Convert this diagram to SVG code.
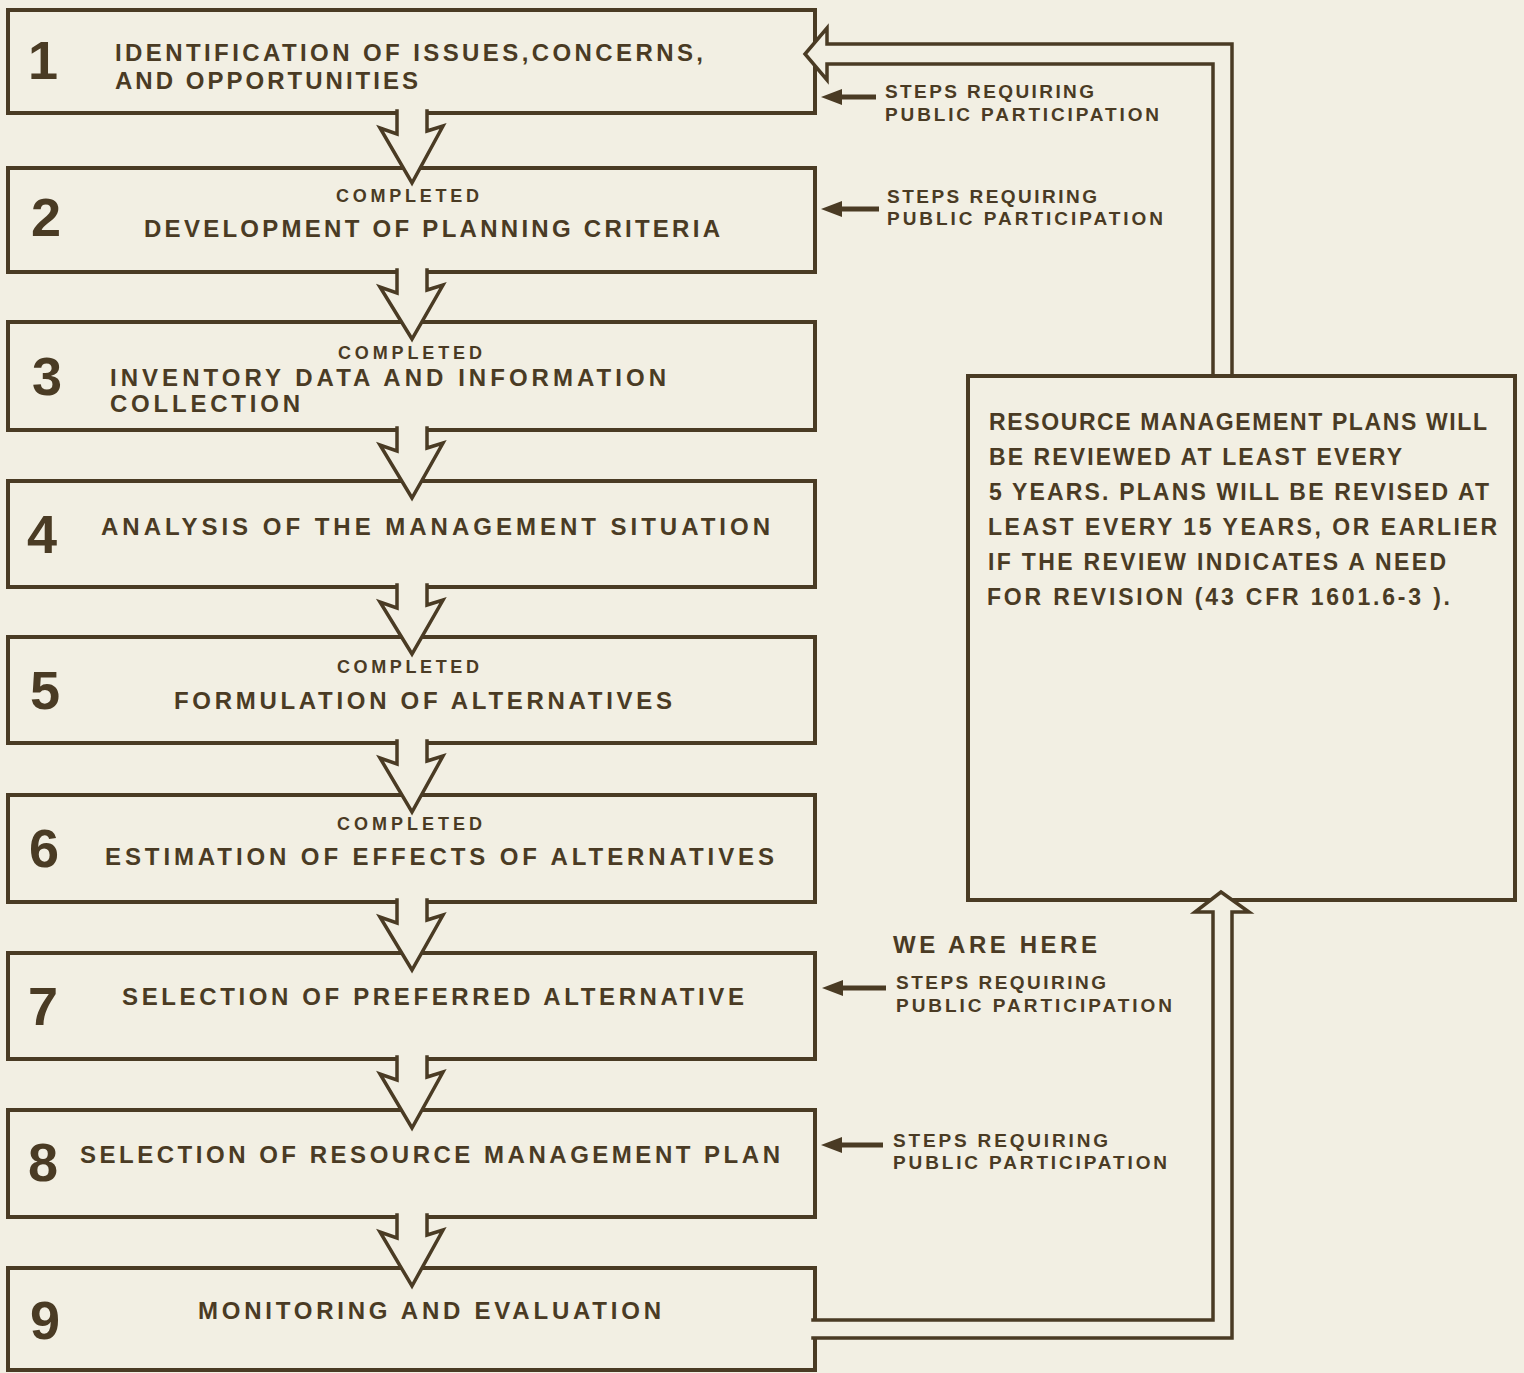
<svg xmlns="http://www.w3.org/2000/svg" width="1524" height="1373" viewBox="0 0 1524 1373">
<style>
.bg{fill:#f2efe3}
.box{fill:none;stroke:#4a3b24;stroke-width:4;stroke-linejoin:miter}
.con{fill:#f2efe3;stroke:#4a3b24;stroke-width:3.5;stroke-linejoin:miter;stroke-linecap:square}
.pp{fill:#4a3b24}
.t{font-family:"Liberation Sans",Arial,sans-serif;font-weight:bold;fill:#4a3b24}
.n{font-family:"Liberation Sans Narrow","Arial Narrow","Liberation Sans",sans-serif}
.num{font-size:54px;text-anchor:middle}
.main{font-size:24px}
.small{font-size:18px}
.side{font-size:19px}
.note{font-size:23px}
.here{font-size:24px}
</style>
<rect class="bg" x="0" y="0" width="1524" height="1373"/>

<g id="node1">
<rect class="box" x="8" y="10" width="807" height="103"/>
<text class="t n num" x="43" y="79">1</text>
<text class="t n main" x="115" y="61" textLength="588" lengthAdjust="spacing">IDENTIFICATION OF ISSUES,CONCERNS,</text>
<text class="t n main" x="115" y="89" textLength="303" lengthAdjust="spacing">AND OPPORTUNITIES</text>
</g>
<g id="node2">
<rect class="box" x="8" y="168" width="807" height="104"/>
<text class="t n num" x="46" y="236">2</text>
<text class="t n small" x="336" y="202" textLength="143" lengthAdjust="spacing">COMPLETED</text>
<text class="t n main" x="144" y="237" textLength="576" lengthAdjust="spacing">DEVELOPMENT OF PLANNING CRITERIA</text>
</g>
<g id="node3">
<rect class="box" x="8" y="322" width="807" height="108"/>
<text class="t n num" x="47" y="395">3</text>
<text class="t n small" x="338" y="359" textLength="144" lengthAdjust="spacing">COMPLETED</text>
<text class="t n main" x="110" y="386" textLength="556" lengthAdjust="spacing">INVENTORY DATA AND INFORMATION</text>
<text class="t n main" x="110" y="412" textLength="190" lengthAdjust="spacing">COLLECTION</text>
</g>
<g id="node4">
<rect class="box" x="8" y="481" width="807" height="106"/>
<text class="t n num" x="42" y="553">4</text>
<text class="t n main" x="101" y="535" textLength="669" lengthAdjust="spacing">ANALYSIS OF THE MANAGEMENT SITUATION</text>
</g>
<g id="node5">
<rect class="box" x="8" y="637" width="807" height="106"/>
<text class="t n num" x="45" y="709">5</text>
<text class="t n small" x="337" y="673" textLength="142" lengthAdjust="spacing">COMPLETED</text>
<text class="t n main" x="174" y="709" textLength="498" lengthAdjust="spacing">FORMULATION OF ALTERNATIVES</text>
</g>
<g id="node6">
<rect class="box" x="8" y="795" width="807" height="107"/>
<text class="t n num" x="44" y="867">6</text>
<text class="t n small" x="337" y="830" textLength="145" lengthAdjust="spacing">COMPLETED</text>
<text class="t n main" x="105" y="865" textLength="669" lengthAdjust="spacing">ESTIMATION OF EFFECTS OF ALTERNATIVES</text>
</g>
<g id="node7">
<rect class="box" x="8" y="953" width="807" height="106"/>
<text class="t n num" x="43" y="1025">7</text>
<text class="t n main" x="122" y="1005" textLength="622" lengthAdjust="spacing">SELECTION OF PREFERRED ALTERNATIVE</text>
</g>
<g id="node8">
<rect class="box" x="8" y="1110" width="807" height="107"/>
<text class="t n num" x="43" y="1181">8</text>
<text class="t n main" x="80" y="1163" textLength="700" lengthAdjust="spacing">SELECTION OF RESOURCE MANAGEMENT PLAN</text>
</g>
<g id="node9">
<rect class="box" x="8" y="1268" width="807" height="102"/>
<text class="t n num" x="45" y="1339">9</text>
<text class="t n main" x="198" y="1319" textLength="463" lengthAdjust="spacing">MONITORING AND EVALUATION</text>
</g>
<g id="review">
<rect class="box" x="968" y="376" width="547" height="524"/>
<text class="t note" x="989" y="430" textLength="498" lengthAdjust="spacing">RESOURCE MANAGEMENT PLANS WILL</text>
<text class="t note" x="989" y="465" textLength="413" lengthAdjust="spacing">BE REVIEWED AT LEAST EVERY</text>
<text class="t note" x="989" y="500" textLength="500" lengthAdjust="spacing">5 YEARS. PLANS WILL BE REVISED AT</text>
<text class="t note" x="988" y="535" textLength="509" lengthAdjust="spacing">LEAST EVERY 15 YEARS, OR EARLIER</text>
<text class="t note" x="988" y="570" textLength="458" lengthAdjust="spacing">IF THE REVIEW INDICATES A NEED</text>
<text class="t note" x="987" y="605" textLength="463" lengthAdjust="spacing">FOR REVISION (43 CFR 1601.6-3 ).</text>
</g>

<g id="labels">
<polygon class="pp" points="821,97 842,89 842,94.5 876,94.5 876,99.5 842,99.5 842,105"/>
<text class="t side" x="885" y="98" textLength="209" lengthAdjust="spacing">STEPS REQUIRING</text>
<text class="t side" x="885" y="121" textLength="274" lengthAdjust="spacing">PUBLIC PARTICIPATION</text>
<polygon class="pp" points="821,209 842,201 842,206.5 879,206.5 879,211.5 842,211.5 842,217"/>
<text class="t side" x="887" y="203" textLength="210" lengthAdjust="spacing">STEPS REQUIRING</text>
<text class="t side" x="887" y="225" textLength="276" lengthAdjust="spacing">PUBLIC PARTICIPATION</text>
<text class="t here" x="893" y="953" textLength="204" lengthAdjust="spacing">WE ARE HERE</text>
<polygon class="pp" points="822,988 843,980 843,985.5 886,985.5 886,990.5 843,990.5 843,996"/>
<text class="t side" x="896" y="989" textLength="210" lengthAdjust="spacing">STEPS REQUIRING</text>
<text class="t side" x="896" y="1012" textLength="276" lengthAdjust="spacing">PUBLIC PARTICIPATION</text>
<polygon class="pp" points="821,1145 842,1137 842,1142.5 883,1142.5 883,1147.5 842,1147.5 842,1153"/>
<text class="t side" x="893" y="1147" textLength="215" lengthAdjust="spacing">STEPS REQUIRING</text>
<text class="t side" x="893" y="1169" textLength="274" lengthAdjust="spacing">PUBLIC PARTICIPATION</text>
</g>

<g id="connectors">
<path class="con" d="M397,111 V134 L380,128 L412,183 L443,126 L427,131 V111"/>
<path class="con" d="M397,270 V293 L380,287 L412,339 L443,285 L427,290 V270"/>
<path class="con" d="M397,428 V451 L380,445 L412,498 L443,443 L427,448 V428"/>
<path class="con" d="M397,585 V608 L380,602 L412,654 L443,600 L427,605 V585"/>
<path class="con" d="M397,741 V764 L380,758 L412,812 L443,756 L427,761 V741"/>
<path class="con" d="M397,900 V923 L380,917 L412,970 L443,915 L427,920 V900"/>
<path class="con" d="M397,1057 V1080 L380,1074 L412,1128 L443,1072 L427,1077 V1057"/>
<path class="con" d="M397,1215 V1238 L380,1232 L412,1286 L443,1230 L427,1235 V1215"/>
<path class="con" d="M1232,374 V44 H827 V28 L805,54 L827,80 V64 H1213 V374"/>
<path class="con" d="M813,1320 H1213 V912 H1195 L1221,892 L1249,912 H1232 V1338 H813"/>
</g>
</svg>
